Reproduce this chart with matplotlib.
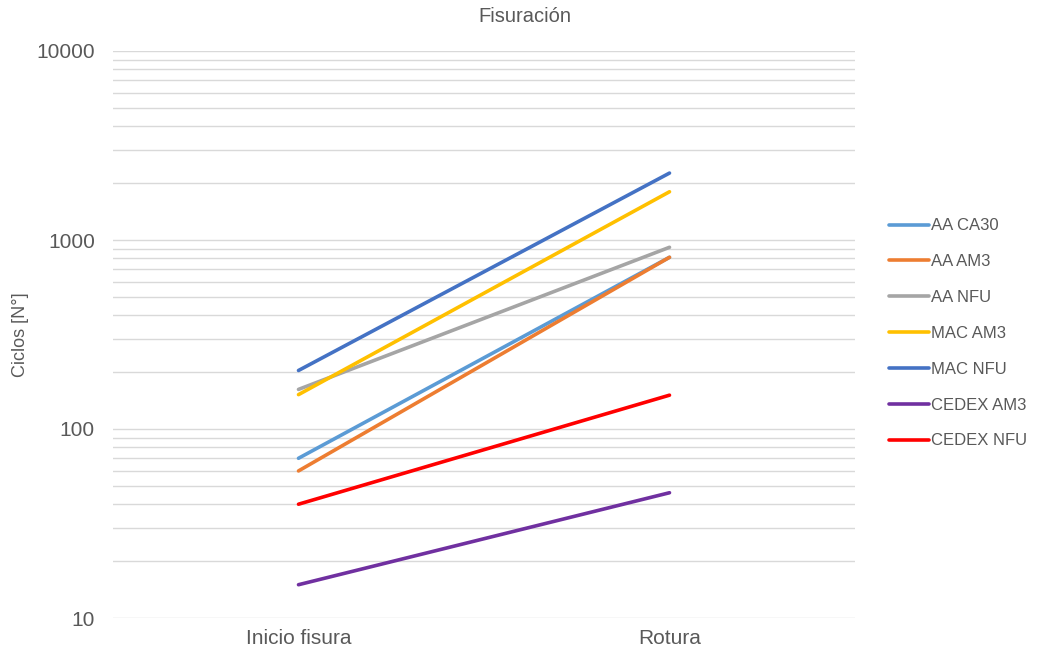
import matplotlib
matplotlib.use("Agg")
import matplotlib.pyplot as plt
from matplotlib.ticker import LogLocator, NullFormatter, FixedLocator

plt.rcParams['font.family'] = ['Liberation Sans', 'DejaVu Sans']

categories = ["Inicio fisura", "Rotura"]
series_names = ["AA CA30", "AA AM3", "AA NFU", "MAC AM3", "MAC NFU", "CEDEX AM3", "CEDEX NFU"]
aa_ca30 = [70, 810]
aa_am3 = [60, 810]
aa_nfu = [162, 915]
mac_am3 = [152, 1800]
mac_nfu = [204, 2260]
cedex_am3 = [15, 46]
cedex_nfu = [40, 151]
colors = ["#5b9bd5", "#ed7d31", "#a5a5a5", "#ffc000", "#4472c4", "#7030a0", "#ff0000"]

all_series = [aa_ca30, aa_am3, aa_nfu, mac_am3, mac_nfu, cedex_am3, cedex_nfu]

fig = plt.figure(figsize=(10.57, 6.5), dpi=100)
ax = fig.add_axes([113/1057, 1 - 618/650, (855-113)/1057, (618-51)/650])

x = list(range(len(categories)))
for name, vals, c in zip(series_names, all_series, colors):
    ax.plot(x, vals, color=c, linewidth=2.6, label=name, solid_capstyle='round')

ax.set_yscale('log')
ax.set_ylim(10, 10000)
ax.set_xlim(-0.5, 1.5)
ax.set_xticks(x)
ax.set_xticklabels(categories)
ax.yaxis.set_major_locator(FixedLocator([10, 100, 1000, 10000]))
ax.yaxis.set_major_formatter(matplotlib.ticker.FuncFormatter(lambda v, p: "%d" % v))
ax.yaxis.set_minor_locator(LogLocator(base=10, subs=range(2, 10)))
ax.yaxis.set_minor_formatter(NullFormatter())
ax.grid(True, which='both', axis='y', color='#d9d9d9', linewidth=1)
ax.set_axisbelow(True)
for s in ax.spines.values():
    s.set_visible(False)
ax.tick_params(axis='both', which='both', length=0, colors='#595959', labelsize=15)
ax.tick_params(axis='y', pad=13)
ax.tick_params(axis='x', pad=8)

ax.set_ylabel("Ciclos [N°]", color='#595959', fontsize=13)
ax.yaxis.set_label_coords(-0.113, 0.5)
fig.text(0.497, 1 - 17/650, "Fisuración", color='#595959', fontsize=14.5,
         ha='center', va='center')

leg = ax.legend(loc='center left', bbox_to_anchor=(1.025, 0.502), frameon=False,
                fontsize=12, labelcolor='#595959', handlelength=2.4,
                handletextpad=0.15, labelspacing=1.25)

fig.savefig("out.png", dpi=100)
